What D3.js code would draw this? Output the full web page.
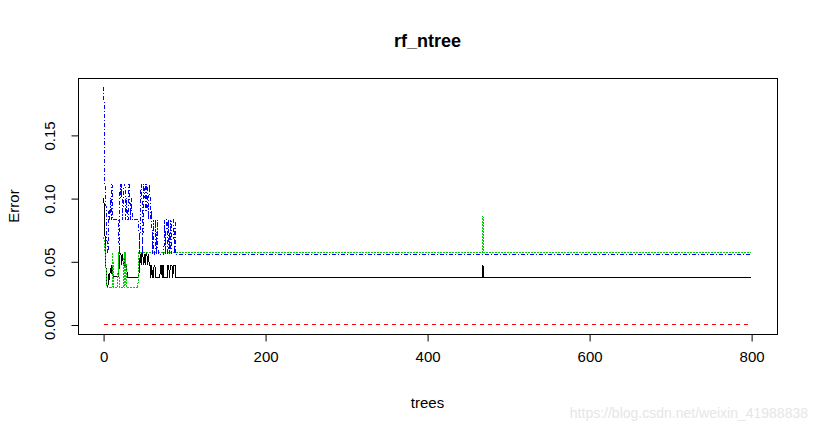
<!DOCTYPE html>
<html>
<head>
<meta charset="utf-8">
<script src="https://cdn.jsdelivr.net/npm/d3@7/dist/d3.min.js"></script>
<style>
  html, body { margin: 0; padding: 0; background: #ffffff; }
  svg { display: block; font-family: "Liberation Sans", Arial, sans-serif; }
</style>
</head>
<body>
<svg id="chart" width="817" height="432"></svg>
<script>
// ---------------- DATA ----------------
const title = "rf_ntree";
const xLabel = "trees";
const yLabel = "Error";
const nTrees = 800;
const xTicks = [0, 200, 400, 600, 800];
const yTicks = [0.00, 0.05, 0.10, 0.15];
const seriesNames = ["OOB", "setosa", "versicolor", "virginica"];
const seriesColors = ["#000000", "#ff0000", "#00cd00", "#0000ff"];

// error rates for the first trees (tree 1, 2, 3, ...)
const oobEarly = [
  0.100,0.075,0.062,0.035,0.030,0.030,0.040,0.035,0.045,0.040,
  0.047,0.040,0.038,0.038,0.038,0.038,0.038,0.038,0.038,0.047,
  0.056,0.056,0.047,0.056,0.047,0.047,0.056,0.047,0.047,0.037,
  0.037,0.037,0.037,0.037,0.037,0.037,0.037,0.037,0.037,0.037,
  0.037,0.037,0.037,0.037,0.047,0.056,0.047,0.056,0.056,0.047,
  0.056,0.047,0.056,0.056,0.047,0.056,0.047,0.047,0.037,0.047,
  0.037,0.037,0.047,0.047,0.037,0.037,0.037,0.037,0.037,0.037,
  0.047,0.047,0.037,0.047,0.037,0.037,0.037,0.037,0.037,0.047,
  0.047,0.037,0.047,0.047,0.047,0.037,0.047,0.047,0.047,0.037
];
const setosaEarly = [0];
const versicolorEarly = [
  0.069,0.058,0.062,0.035,0.029,0.029,0.029,0.029,0.029,0.029,
  0.029,0.057,0.029,0.029,0.029,0.029,0.029,0.029,0.057,0.029,
  0.029,0.029,0.029,0.029,0.029,0.057,0.029,0.057,0.029,0.029,
  0.029,0.029,0.029,0.029,0.029,0.029,0.029,0.029,0.029,0.029,
  0.029,0.029,0.029,0.057,0.057,0.057,0.057,0.057,0.057,0.057
];
const virginicaEarly = [
  0.1875,0.115,0.100,0.090,0.062,0.0556,0.090,0.083,0.100,0.083,
  0.111,0.083,0.083,0.083,0.083,0.083,0.083,0.083,0.083,0.0556,
  0.111,0.100,0.111,0.083,0.100,0.111,0.111,0.083,0.100,0.083,
  0.083,0.111,0.100,0.083,0.100,0.083,0.083,0.083,0.083,0.083,
  0.083,0.083,0.083,0.083,0.0556,0.083,0.111,0.100,0.0556,0.111,
  0.100,0.111,0.090,0.111,0.100,0.083,0.111,0.100,0.083,0.090,
  0.0556,0.083,0.0556,0.0556,0.083,0.0556,0.083,0.0556,0.0556,0.0556,
  0.0556,0.0556,0.0556,0.0556,0.0556,0.083,0.0556,0.083,0.083,0.0556,
  0.083,0.0556,0.083,0.0556,0.083,0.083,0.083,0.0556,0.083,0.0556
];
// settled values after the early trees
const oobTail = 0.0374;
const setosaTail = 0;
const versicolorTail = 0.0571;
const virginicaTail = 0.0556;
// isolated blip
const blipTree = 469;
const oobBlip = 0.0467;
const versicolorBlip = 0.0857;

// ---------------- BUILD SERIES ----------------
function expand(early, tail, blip) {
  const out = [];
  for (let t = 1; t <= nTrees; t++) {
    let v = t <= early.length ? early[t - 1] : tail;
    if (blip !== undefined && t === blipTree) v = blip;
    out.push({ t: t, v: v });
  }
  return out;
}
// drop interior points of flat runs (same geometry, cleaner dash rendering)
function simplify(pts) {
  return pts.filter((d, i) =>
    i === 0 || i === pts.length - 1 || d.v !== pts[i - 1].v || d.v !== pts[i + 1].v);
}
const series = [
  expand(oobEarly, oobTail, oobBlip),
  expand(setosaEarly, setosaTail),
  expand(versicolorEarly, versicolorTail, versicolorBlip),
  expand(virginicaEarly, virginicaTail)
];
const dashes = [null, "4,4", "2,1", "4,2,1,2"];

// ---------------- DRAW ----------------
const svg = d3.select("#chart");
const plot = { left: 78, right: 777, top: 78, bottom: 334 };

const xMin = 1, xMax = nTrees;
const xPad = (xMax - xMin) * 0.04;
const x = d3.scaleLinear().domain([xMin - xPad, xMax + xPad]).range([plot.left, plot.right]);
const allV = series.flat().map(d => d.v);
const yMin = d3.min(allV), yMax = d3.max(allV);
const yPad = (yMax - yMin) * 0.04;
const y = d3.scaleLinear().domain([yMin - yPad, yMax + yPad]).range([plot.bottom, plot.top]);

const line = d3.line().x(d => x(d.t)).y(d => y(d.v));

series.forEach((s, i) => {
  svg.append("path")
    .datum(simplify(s))
    .attr("d", line)
    .attr("fill", "none")
    .attr("stroke", seriesColors[i])
    .attr("stroke-width", 1)
    .attr("stroke-dasharray", dashes[i])
    .attr("shape-rendering", "crispEdges");
});

// box
svg.append("rect")
  .attr("x", plot.left + 0.5).attr("y", plot.top + 0.5)
  .attr("width", plot.right - plot.left).attr("height", plot.bottom - plot.top)
  .attr("fill", "none").attr("stroke", "#000").attr("stroke-width", 1);

// x axis
const xAxis = svg.append("g")
  .attr("transform", `translate(0.5,${plot.bottom + 0.5})`)
  .call(d3.axisBottom(x).tickValues(xTicks).tickFormat(d3.format("d")).tickSize(7).tickPadding(10).tickSizeOuter(0));
xAxis.select(".domain").attr("d", `M${x(xTicks[0])},0H${x(xTicks[xTicks.length - 1])}`);
xAxis.selectAll("text").attr("font-size", "15px").attr("fill", "#000").attr("font-family", "Liberation Sans, Arial, sans-serif");

// y axis
const yAxis = svg.append("g")
  .attr("transform", `translate(${plot.left + 0.5},0.5)`)
  .call(d3.axisLeft(y).tickValues(yTicks).tickFormat(d3.format(".2f")).tickSize(7).tickSizeOuter(0));
yAxis.select(".domain").attr("d", `M0,${y(yTicks[0])}V${y(yTicks[yTicks.length - 1])}`);
yAxis.selectAll(".tick text")
  .attr("font-size", "15px").attr("fill", "#000").attr("font-family", "Liberation Sans, Arial, sans-serif")
  .attr("x", null).attr("dy", null)
  .attr("text-anchor", "middle")
  .attr("transform", "translate(-29,0) rotate(-90)")
  .attr("dominant-baseline", "central");

// title
svg.append("text")
  .attr("x", (plot.left + plot.right) / 2).attr("y", 47)
  .attr("text-anchor", "middle")
  .attr("font-size", "18px").attr("font-weight", "bold")
  .text(title);

// axis titles
svg.append("text")
  .attr("x", (plot.left + plot.right) / 2).attr("y", 408)
  .attr("text-anchor", "middle").attr("font-size", "15px")
  .text(xLabel);
svg.append("text")
  .attr("transform", `translate(19,${(plot.top + plot.bottom) / 2}) rotate(-90)`)
  .attr("text-anchor", "middle").attr("font-size", "15px")
  .text(yLabel);

// watermark
svg.append("text")
  .attr("x", 808).attr("y", 418)
  .attr("text-anchor", "end").attr("font-size", "14px")
  .attr("fill", "#e6e6e6")
  .text("https://blog.csdn.net/weixin_41988838");
</script>
</body>
</html>
